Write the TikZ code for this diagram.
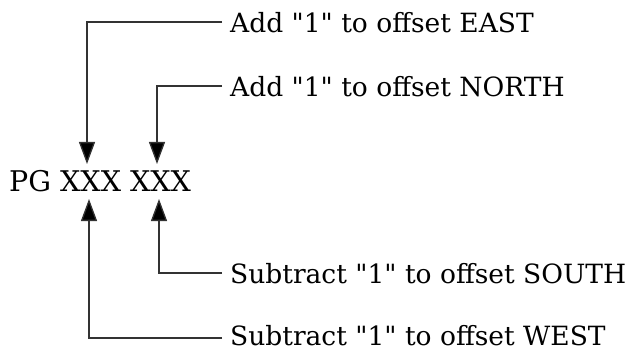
\documentclass[tikz,border=0pt]{standalone}
\usepackage{fontspec}
\setmainfont{DejaVu Serif}[Ligatures=TeXOff]
\usetikzlibrary{arrows.meta}
\begin{document}
\begin{tikzpicture}[x=1pt,y=-1pt,
  lbl/.style={anchor=base west, inner sep=0pt, font=\fontsize{26.5}{30}\selectfont},
  conn/.style={draw=black!80, line width=1.3pt, -{Triangle[length=22pt,width=16pt,fill=black]}}]
\useasboundingbox (0,0) rectangle (632,350);
\node[lbl, font=\fontsize{28.5}{32}\selectfont] (pg) at (9,192) {PG XXX XXX};
\node[lbl] (east) at (230,33) {Add "1" to offset EAST};
\node[lbl] (north) at (230,97) {Add "1" to offset NORTH};
\node[lbl] (south) at (230,283) {Subtract "1" to offset SOUTH};
\node[lbl] (west) at (230,345) {Subtract "1" to offset WEST};
\coordinate (te) at (87,164);
\coordinate (tn) at (157,164);
\coordinate (ts) at (159,199);
\coordinate (tw) at (89,199);
\draw[conn] (222,22) coordinate (ce) -- (te |- ce) -- (te);
\draw[conn] (222,86) coordinate (cn) -- (tn |- cn) -- (tn);
\draw[conn] (222,273) coordinate (cs) -- (ts |- cs) -- (ts);
\draw[conn] (222,338) coordinate (cw) -- (tw |- cw) -- (tw);
\end{tikzpicture}
\end{document}
